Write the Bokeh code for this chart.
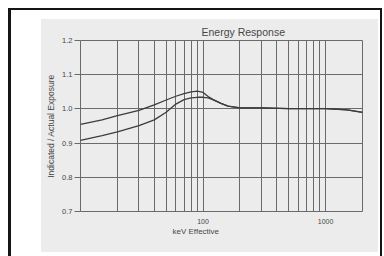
from bokeh.plotting import figure
from bokeh.models import Range1d, FixedTicker, NumeralTickFormatter, Title
from bokeh.embed import file_html
from bokeh.resources import INLINE

# Data
energy_kev = [10, 15, 20, 30, 40, 50, 60, 70, 80, 90, 100, 110, 120, 140, 160, 200, 300, 500, 800, 1000, 1500, 2000]
response_upper = [0.955, 0.968, 0.980, 0.996, 1.012, 1.026, 1.037, 1.045, 1.050, 1.052, 1.048, 1.036, 1.028, 1.016,
                  1.008, 1.003, 1.003, 1.001, 1.001, 1.001, 0.997, 0.990]
response_lower = [0.908, 0.922, 0.933, 0.951, 0.968, 0.990, 1.014, 1.027, 1.032, 1.034, 1.034, 1.032, 1.027, 1.016,
                  1.008, 1.003, 1.003, 1.001, 1.001, 1.001, 0.997, 0.990]
y_ticks = [0.7, 0.8, 0.9, 1.0, 1.1, 1.2]
x_major_ticks = [100, 1000]
x_minor_ticks = [20, 30, 40, 50, 60, 70, 80, 90, 200, 300, 400, 500, 600, 700, 800, 900]
title_text = "Energy Response"
x_label = "keV Effective"
y_label = "Indicated / Actual Exposure"

FONT = "Liberation Sans"
TXT = "#474747"
GRID = "#6a6a6a"
PAPER = "#ececec"

p = figure(width=384, height=256, x_axis_type="log",
           x_range=Range1d(10, 2000), y_range=Range1d(0.7, 1.2),
           output_backend="svg", toolbar_location=None,
           min_border_left=80, min_border_right=22, min_border_top=40, min_border_bottom=45)

p.background_fill_color = PAPER
p.border_fill_color = None
p.outline_line_color = GRID
p.outline_line_width = 1

# scanned sheet (light grey paper) and black page frame, drawn as the figure's CSS background
p.styles = {
    "background": (
        "linear-gradient(#151515,#151515) 8px 8px / 374px 2px no-repeat, "
        "linear-gradient(#151515,#151515) 8px 8px / 3px 248px no-repeat, "
        "linear-gradient(#151515,#151515) 380px 8px / 2px 248px no-repeat, "
        "linear-gradient(#ececec,#ececec) 41px 19px / 337px 233px no-repeat, "
        "white"
    )
}

# axes
p.xaxis.ticker = FixedTicker(ticks=x_major_ticks, minor_ticks=x_minor_ticks)
p.xaxis.formatter = NumeralTickFormatter(format="0")
p.xaxis.major_tick_line_color = None
p.xaxis.minor_tick_line_color = None
p.xaxis.axis_line_color = None
p.xaxis.major_label_text_font = FONT
p.xaxis.major_label_text_font_size = "7px"
p.xaxis.major_label_text_color = TXT
p.xaxis.major_label_standoff = 1

p.yaxis.ticker = FixedTicker(ticks=y_ticks)
p.yaxis.formatter = NumeralTickFormatter(format="0.0")
p.yaxis.major_tick_line_color = GRID
p.yaxis.major_tick_out = 6
p.yaxis.major_tick_in = 0
p.yaxis.minor_tick_line_color = None
p.yaxis.axis_line_color = None
p.yaxis.major_label_text_font = FONT
p.yaxis.major_label_text_font_size = "7.5px"
p.yaxis.major_label_text_color = TXT
p.yaxis.major_label_standoff = 2
p.yaxis.axis_label = y_label
p.yaxis.axis_label_text_font = FONT
p.yaxis.axis_label_text_font_size = "8.5px"
p.yaxis.axis_label_text_font_style = "normal"
p.yaxis.axis_label_text_color = TXT
p.yaxis.axis_label_standoff = 3

# grid
p.xgrid.grid_line_color = GRID
p.xgrid.grid_line_width = 1
p.xgrid.minor_grid_line_color = GRID
p.xgrid.minor_grid_line_width = 1
p.ygrid.grid_line_color = GRID
p.ygrid.grid_line_width = 1

# curves
p.line(energy_kev, response_upper, line_color="#3c3c3c", line_width=1.3)
p.line(energy_kev, response_lower, line_color="#3c3c3c", line_width=1.3)

# titles
t = Title(text=title_text, align="left", offset=121, standoff=5,
          text_font=FONT, text_font_size="10.5px", text_font_style="normal", text_color=TXT)
p.add_layout(t, "above")
xl = Title(text=x_label, align="left", offset=92, standoff=-4,
           text_font=FONT, text_font_size="8px", text_font_style="normal", text_color=TXT)
p.add_layout(xl, "below")

open("out.html", "w").write(file_html(p, INLINE))
